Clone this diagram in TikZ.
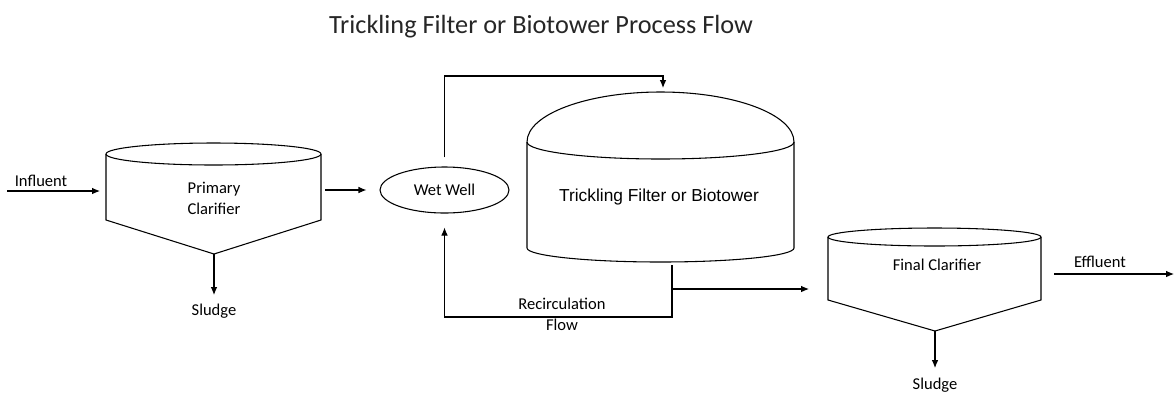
\documentclass[tikz,border=0pt]{standalone}
\usepackage{fontspec}
\setmainfont{Carlito}
\newfontfamily\tffont{Liberation Sans}
\usetikzlibrary{arrows.meta,shapes.geometric}
\tikzset{
  lbl/.style={font=\fontsize{12.4}{14}\selectfont},
  flow/.style={-{Latex[length=6pt,width=5pt]}}
}
\begin{document}
\begin{tikzpicture}[x=0.75pt,y=-0.75pt,line width=0.8pt]
\useasboundingbox (0,0) rectangle (1176,394);
\draw(541,27) node[font=\fontsize{19.7}{22}\selectfont,text=black!85] (title) {Trickling Filter or Biotower Process Flow};
% primary clarifier
\draw (106,154) -- (106,220) -- (214,254) -- (321,220) -- (321,154);
\draw (213.5,154) ellipse [x radius=107.5, y radius=11];
\draw(214,198) node[lbl,align=center,font=\fontsize{12.4}{15.75}\selectfont] (pc) {Primary\\Clarifier};
\coordinate (pcin) at (100,191);
\coordinate (pcout) at (325,190);
\coordinate (pctip) at (214,254);
\coordinate (inf) at (7,191);
\draw(41,181) node[lbl] (inflbl) {Influent};
\draw[flow] (inf) -- (pcin);
\coordinate (pcsl) at (214,295);
\draw[flow] (pctip) -- (pcsl);
\draw(214,311) node[lbl] (sl1) {Sludge};
% wet well
\draw(444.5,190) node[draw,ellipse,inner sep=0pt,minimum width=96.75pt,minimum height=34.5pt,lbl] (ww) {Wet Well};
\draw[flow,shorten >=9.75pt] (pcout) -- (ww.west);
% trickling filter
\draw (527,142) arc[start angle=180, end angle=360, x radius=133.5, y radius=50]
  -- (794,248) arc[start angle=0, end angle=180, x radius=133.5, y radius=14] -- cycle;
\draw (527,142) arc[start angle=180, end angle=0, x radius=133.5, y radius=17];
\draw(659,197) node[font=\tffont\fontsize{13}{15}\selectfont] (tf) {Trickling Filter or Biotower};
\coordinate (tftop) at (663,88);
\coordinate (tfcorner) at (663,76);
\draw[flow,shorten <=6.75pt] (ww.north) |- (tfcorner) -- (tftop);
\coordinate (tfout) at (672,265);
\coordinate (rc) at (672,317);
\coordinate (tee) at (672,289);
\draw[flow,shorten >=10.5pt] (tfout) -- (rc) -| (ww.south);
\draw(562,314.5) node[lbl,align=center,font=\fontsize{12.4}{15.75}\selectfont] (rclbl) {Recirculation\\Flow};
% final clarifier
\draw (828,237) -- (828,300) -- (935,331) -- (1041,300) -- (1041,237);
\draw (934.5,237) ellipse [x radius=106.5, y radius=9];
\draw(937,265) node[lbl] (fc) {Final Clarifier};
\coordinate (fcin) at (809,289);
\draw[flow] (tee) -- (fcin);
\coordinate (fctip) at (935,331);
\coordinate (fcsl) at (935,368);
\draw[flow] (fctip) -- (fcsl);
\draw(935,385) node[lbl] (sl2) {Sludge};
\coordinate (fcout) at (1054,274);
\coordinate (eff) at (1174,274);
\draw[flow] (fcout) -- (eff);
\draw(1100,262) node[lbl] (efflbl) {Effluent};
\end{tikzpicture}
\end{document}
